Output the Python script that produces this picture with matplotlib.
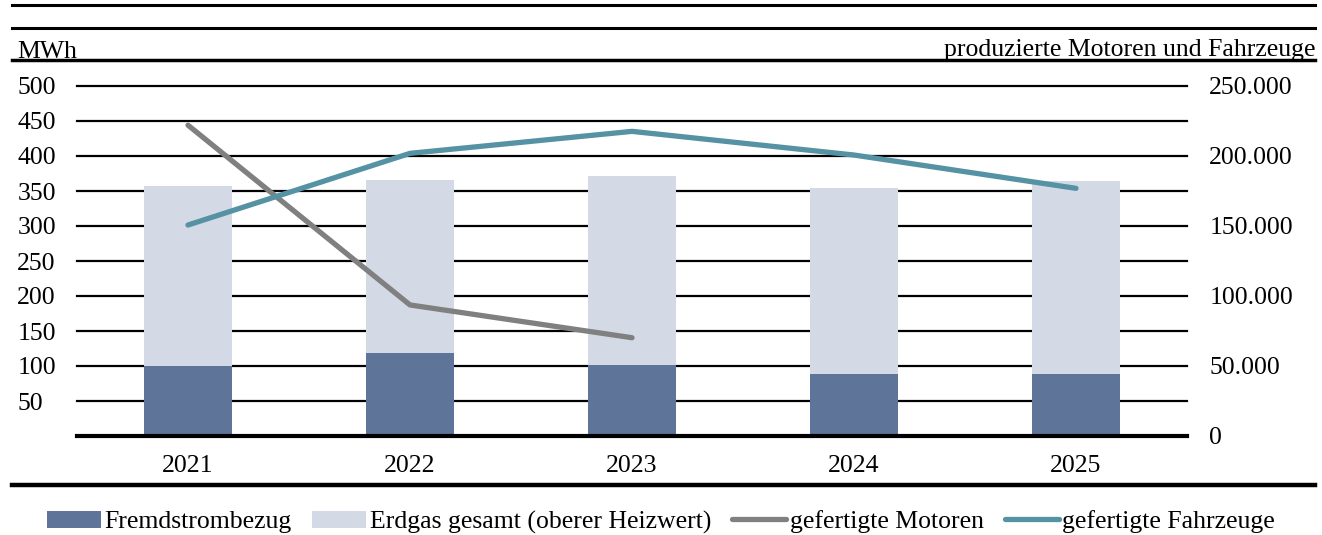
import numpy as np
import matplotlib.pyplot as plt
from matplotlib.lines import Line2D
from matplotlib.ticker import FuncFormatter

# Daten
jahre = ["2021", "2022", "2023", "2024", "2025"]
fremdstrom = [100, 119, 101, 89, 89]          # MWh
erdgas = [257, 246, 270, 265, 275]            # MWh (oberer Heizwert)
motoren = [222000, 93600, 70200, np.nan, np.nan]
fahrzeuge = [150700, 201900, 217600, 200700, 176900]

c_dark = "#5e7599"
c_light = "#d3dae6"
c_grau = "#808080"
c_teal = "#5592a3"

plt.rcParams['font.family'] = ['Liberation Serif', 'DejaVu Serif']
fs = 18.5

fig = plt.figure(figsize=(13.22, 5.35), dpi=100)
ax = fig.add_axes([77/1322, 1-436/535, 1110/1322, 350/535])

x = np.arange(len(jahre))
ax.bar(x, fremdstrom, width=0.4, color=c_dark, label="Fremdstrombezug", zorder=2)
ax.bar(x, erdgas, width=0.4, bottom=fremdstrom, color=c_light,
       label="Erdgas gesamt (oberer Heizwert)", zorder=2)

ax.set_xlim(-0.5, len(jahre) - 0.5)
ax.set_ylim(0, 500)
ax.set_yticks(range(50, 501, 50))
ax.yaxis.grid(True, color="black", lw=1.6)
ax.set_axisbelow(True)
for gl in ax.get_ygridlines():
    gl.set_clip_on(False)
ax.set_xticks(x)
ax.set_xticklabels(jahre, fontsize=fs)
ax.tick_params(axis='x', length=0, pad=14)
ax.tick_params(axis='y', length=0, pad=43, labelsize=fs)
for lab in ax.get_yticklabels():
    lab.set_ha('left')
for s in ['top', 'left', 'right']:
    ax.spines[s].set_visible(False)
ax.spines['bottom'].set_linewidth(3)
ax.spines['bottom'].set_zorder(3)

# rechte Achse
ax2 = ax.twinx()
ax2.plot(x, motoren, color=c_grau, lw=3.8, solid_capstyle='round',
         label="gefertigte Motoren")
ax2.plot(x, fahrzeuge, color=c_teal, lw=3.8, solid_capstyle='round',
         label="gefertigte Fahrzeuge")
ax2.set_ylim(0, 250000)
ax2.set_yticks(range(0, 250001, 50000))
ax2.yaxis.set_major_formatter(FuncFormatter(lambda v, p: f"{int(v):,}".replace(",", ".")))
ax2.tick_params(axis='y', length=0, pad=16, labelsize=fs)
for s in ax2.spines.values():
    s.set_visible(False)

# Achsentitel
fig.text(17/1322, 1-58/535, "MWh", fontsize=fs, ha='left', va='baseline')
fig.text(1315/1322, 1-56/535, "produzierte Motoren und Fahrzeuge", fontsize=fs,
         ha='right', va='baseline')

# Trennlinien
for yy, lw in [(5, 2.2), (28, 2.2), (60, 2.5), (485, 3.2)]:
    fig.add_artist(Line2D([12/1322, 1315/1322], [1-yy/535, 1-yy/535],
                          color="black", lw=lw, transform=fig.transFigure))

# Legende
h1, l1 = ax.get_legend_handles_labels()
h2, l2 = ax2.get_legend_handles_labels()
fig.legend(h1 + h2, l1 + l2, loc='center', bbox_to_anchor=(0.5, 1-522/535),
           ncol=4, frameon=False, fontsize=fs, handlelength=2.1,
           handleheight=0.65, handletextpad=0.15, columnspacing=0.8)

plt.savefig("out.png", dpi=100)
